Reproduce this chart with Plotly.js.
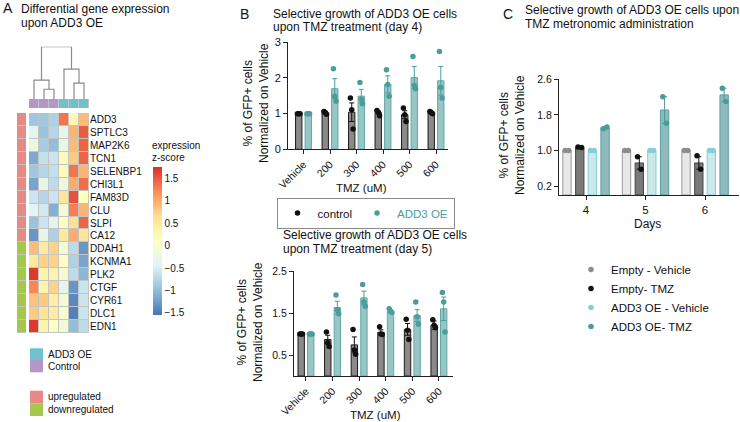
<!DOCTYPE html>
<html><head><meta charset="utf-8">
<script src="https://cdn.plot.ly/plotly-3.0.1.min.js"></script>
<style>html,body{margin:0;padding:0;background:#fff}#chart{width:740px;height:422px}</style>
</head><body><div id="chart"></div>
<script>
// ================= Panel A: heatmap data =================
const genes = ['ADD3','SPTLC3','MAP2K6','TCN1','SELENBP1','CHI3L1','FAM83D','CLU','SLPI','CA12',
               'DDAH1','KCNMA1','PLK2','CTGF','CYR61','DLC1','EDN1'];
const geneRegulation = ['up','up','up','up','up','up','up','up','up','up',
                        'down','down','down','down','down','down','down'];
const samples = ['Control','Control','Control','ADD3 OE','ADD3 OE','ADD3 OE'];
const zScores = [
  [-0.9, -0.9, -0.8, 1.35, 0.25, 0.9],
  [-0.35,-0.95,-0.75,-0.3, 0.95, 1.5],
  [-0.2, -0.85,-1.0, -0.3, 0.9,  1.45],
  [-1.15,-0.65,-0.6,  0.15,0.8,  1.45],
  [-0.9, -0.75,-0.65, 0.2, 1.35, 0.95],
  [-1.2, -0.3, -0.7, -0.2, 1.0,  1.4],
  [-0.6, -0.75,-0.6,  0.55,1.55, 0.1],
  [-0.4, -0.55,-1.1, -0.1, 1.3,  0.95],
  [-0.95,-0.6, -0.35, 0.05,0.65, 1.45],
  [-1.3, -0.3, -0.8,  0.5, 1.0,  0.55],
  [0.9,  0.45, 0.75, -0.1,-0.7, -1.3],
  [0.5,  0.75, 0.75,  0.05,-0.8,-1.2],
  [1.7,  0.3,  0.3,  -0.1,-0.7, -1.05],
  [1.25, 0.3,  0.75, -0.35,-1.3,-0.6],
  [0.85, 0.8,  0.4,  -0.1,-1.4, -0.6],
  [0.8,  0.55, 0.45, -0.05,-1.45,-0.6],
  [1.7,  0.3,  0.05, -0.15,-1.0,-0.7]
];
// column dendrogram (nodes 0-5 = samples, 6+ = merges in order)
const dendroLeft = [1, 4, 0, 3, 8];
const dendroRight = [2, 5, 6, 7, 9];
const dendroHeight = [9.7, 15.7, 18.7, 29.7, 52];
const colorbarTicks = [1.5, 1, 0.5, 0, -0.5, -1, -1.5];

// ================= Panel B data =================
const tmzLabels = ['Vehicle','200','300','400','500','600'];
const day4Control = [1.0, 1.02, 1.04, 1.03, 0.97, 1.02];
const day4ControlSem = [0, 0.02, 0.26, 0.04, 0.11, 0.02];
const day4ControlPts = [[1,1,1],[1.06,1.03,0.98],[1.44,1.11,0.57],[1.09,1.04,0.94],[1.16,0.97,0.78],[1.06,1.03,1.0]];
const day4OE = [1.0, 1.70, 1.49, 1.82, 2.01, 1.92];
const day4OESem = [0, 0.28, 0.19, 0.24, 0.31, 0.40];
const day4OEPts = [[1,1,1],[2.26,1.49,1.35],[1.87,1.40,1.28],[2.23,1.82,1.49],[2.60,1.79,1.70],[2.74,1.73,1.44]];

const day5Control = [1.0, 0.87, 0.74, 1.04, 1.11, 1.21];
const day5ControlSem = [0, 0.10, 0.19, 0.06, 0.14, 0.10];
const day5ControlPts = [[1,1,1],[1.05,0.79,0.70],[1.11,0.62,0.52],[1.17,1.0,0.99],[1.35,1.09,0.87],[1.34,1.21,1.15]];
const day5OE = [1.0, 1.63, 1.86, 1.54, 1.44, 1.60];
const day5OESem = [0, 0.15, 0.16, 0.03, 0.14, 0.28];
const day5OEPts = [[1,1,1],[1.93,1.58,1.48],[2.18,1.76,1.66],[1.60,1.54,1.51],[1.76,1.41,1.23],[1.99,1.76,1.05]];

// ================= Panel C data =================
const days = ['4','5','6'];
const groupNames = ['Empty - Vehicle','Empty- TMZ','ADD3 OE - Vehicle','ADD3 OE- TMZ'];
const emptyVehicle = [1.0, 1.0, 1.0];
const emptyVehicleSem = [0, 0, 0];
const emptyVehiclePts = [[1,1],[1,1],[1,1]];
const emptyTMZ = [1.07, 0.72, 0.72];
const emptyTMZSem = [0.01, 0.14, 0.14];
const emptyTMZPts = [[1.08,1.07],[0.86,0.58],[0.88,0.58]];
const add3Vehicle = [1.0, 1.0, 1.0];
const add3VehicleSem = [0, 0, 0];
const add3VehiclePts = [[1,1],[1,1],[1,1]];
const add3TMZ = [1.51, 1.91, 2.25];
const add3TMZSem = [0.02, 0.30, 0.15];
const add3TMZPts = [[1.49,1.53],[2.21,1.61],[2.40,2.10]];

// ================= helpers =================
const W = 740, H = 422;
const FONT = 'Liberation Sans, Arial, Helvetica, sans-serif';
const X = p => p / W;
const Y = p => 1 - p / H;
const idx = arr => arr.map((_, i) => i);

const traces = [];

// --- heatmap ---
traces.push({
  type: 'heatmap', x: idx(samples), y: genes, z: zScores,
  zmin: -1.55, zmax: 1.76,
  colorscale: [[0,'#4575B4'],[1/6,'#91BFDB'],[2/6,'#E0F3F8'],[0.5,'#FFFFBF'],[4/6,'#FEE090'],[5/6,'#FC8D59'],[1,'#D73027']],
  xgap: 1, ygap: 1, xaxis: 'x', yaxis: 'y', hoverinfo: 'skip',
  colorbar: {
    x: X(153), xanchor: 'left', xpad: 0, y: Y(241), yanchor: 'middle', ypad: 0,
    len: 148 / H, lenmode: 'fraction', thickness: 9, thicknessmode: 'pixels',
    outlinewidth: 0, ticks: '', tickvals: colorbarTicks,
    ticktext: colorbarTicks.map(v => v < 0 ? '\u2212' + Math.abs(v) : String(v)),
    tickfont: {size: 10, family: FONT, color: '#111'}
  }
});
// column annotation
traces.push({
  type: 'heatmap', x: idx(samples), y: [0],
  z: [samples.map(s => s === 'ADD3 OE' ? 1 : 0)],
  zmin: 0, zmax: 1, colorscale: [[0,'#b596c9'],[1,'#6fc1cd']], showscale: false,
  xgap: 1, xaxis: 'x2', yaxis: 'y2', hoverinfo: 'skip'
});
// row annotation
traces.push({
  type: 'heatmap', x: [0], y: genes,
  z: geneRegulation.map(r => [r === 'up' ? 1 : 0]),
  zmin: 0, zmax: 1, colorscale: [[0,'#a3c84b'],[1,'#e68a86']], showscale: false,
  ygap: 1, xaxis: 'x3', yaxis: 'y3', hoverinfo: 'skip'
});
// dendrogram
(function () {
  const nx = idx(samples).slice(), nh = samples.map(() => 0);
  const lx = [], ly = [];
  dendroLeft.forEach((a, i) => {
    const b = dendroRight[i], h = dendroHeight[i];
    lx.push(nx[a], nx[a], nx[b], nx[b], null);
    ly.push(nh[a], h, h, nh[b], null);
    nx.push((nx[a] + nx[b]) / 2); nh.push(h);
  });
  traces.push({type: 'scatter', mode: 'lines', x: lx, y: ly, line: {color: '#8a8a8a', width: 1.2},
    xaxis: 'x4', yaxis: 'y4', showlegend: false, hoverinfo: 'skip', cliponaxis: false});
})();

function barTrace(means, sems, fill, edge, errColor, offset, width, xa, ya) {
  return {type: 'bar', x: idx(means), y: means, width: width, offset: offset,
    marker: {color: fill, line: {color: edge, width: 1}},
    error_y: {type: 'data', array: sems, visible: true, color: errColor, thickness: 1, width: 2.5},
    xaxis: xa, yaxis: ya, showlegend: false, hoverinfo: 'skip'};
}
function pointTrace(name, pts, color, center, jitter, xa, ya, legend, showlegend) {
  const xs = [], ys = [];
  pts.forEach((rep, i) => rep.forEach((v, r) => {
    xs.push(i + center + (r - (rep.length - 1) / 2) * jitter); ys.push(v);
  }));
  return {type: 'scatter', mode: 'markers', x: xs, y: ys, name: name,
    marker: {color: color, size: 5.5}, xaxis: xa, yaxis: ya,
    legend: legend, showlegend: showlegend, cliponaxis: false, hoverinfo: 'skip'};
}

// --- Panel B ---
const BW = 0.24, BOFF = [-0.30, 0.06];
const cCtrl = {fill: '#8a8a8a', edge: '#1a1a1a', err: '#111', pt: '#111'};
const cOE = {fill: '#97c6c4', edge: '#64a8a6', err: '#4a9d9a', pt: '#4a9d9a'};
traces.push(barTrace(day4Control, day4ControlSem, cCtrl.fill, cCtrl.edge, cCtrl.err, BOFF[0], BW, 'x5', 'y5'));
traces.push(barTrace(day4OE, day4OESem, cOE.fill, cOE.edge, cOE.err, BOFF[1], BW, 'x5', 'y5'));
traces.push(pointTrace('control', day4ControlPts, cCtrl.pt, BOFF[0] + BW / 2, 0.05, 'x5', 'y5', 'legend2', true));
traces.push(pointTrace('<span style="color:#4a9d9a">ADD3 OE</span>', day4OEPts, cOE.pt, BOFF[1] + BW / 2, 0.05, 'x5', 'y5', 'legend2', true));
traces.push(barTrace(day5Control, day5ControlSem, cCtrl.fill, cCtrl.edge, cCtrl.err, BOFF[0], BW, 'x6', 'y6'));
traces.push(barTrace(day5OE, day5OESem, cOE.fill, cOE.edge, cOE.err, BOFF[1], BW, 'x6', 'y6'));
traces.push(pointTrace('control', day5ControlPts, cCtrl.pt, BOFF[0] + BW / 2, 0.05, 'x6', 'y6', 'legend2', false));
traces.push(pointTrace('ADD3 OE', day5OEPts, cOE.pt, BOFF[1] + BW / 2, 0.05, 'x6', 'y6', 'legend2', false));

// --- Panel C ---
const CW = 0.14, COFF = [-0.39, -0.175, 0.035, 0.25];
const cStyles = [
  {fill: '#e8e8e8', edge: '#9a9a9a', err: '#888', pt: '#8c8c8c'},
  {fill: '#7a7a7a', edge: '#444', err: '#111', pt: '#111'},
  {fill: '#cde8ea', edge: '#84cfd8', err: '#7fd0d9', pt: '#7fd0d9'},
  {fill: '#8fb9bb', edge: '#5b9fa0', err: '#4b9b99', pt: '#4b9b99'}
];
const cMeans = [emptyVehicle, emptyTMZ, add3Vehicle, add3TMZ];
const cSems = [emptyVehicleSem, emptyTMZSem, add3VehicleSem, add3TMZSem];
const cPts = [emptyVehiclePts, emptyTMZPts, add3VehiclePts, add3TMZPts];
cMeans.forEach((m, g) => {
  const s = cStyles[g];
  traces.push(barTrace(m, cSems[g], s.fill, s.edge, s.err, COFF[g], CW, 'x7', 'y7'));
});
cPts.forEach((p, g) => {
  traces.push(pointTrace(groupNames[g], p, cStyles[g].pt, COFF[g] + CW / 2, 0.06, 'x7', 'y7', 'legend', true));
});

// ================= layout =================
const hidden = {visible: false, showgrid: false, zeroline: false, fixedrange: true};
const axisLine = {showline: true, linecolor: '#222', linewidth: 1, ticks: 'outside', ticklen: 4,
  tickcolor: '#222', tickwidth: 1, showgrid: false, zeroline: false,
  tickfont: {size: 10.5, family: FONT, color: '#111'}};

function ann(text, xpx, ypx, size, extra) {
  return Object.assign({text: text, x: X(xpx), y: Y(ypx), xref: 'paper', yref: 'paper',
    showarrow: false, xanchor: 'left', yanchor: 'middle',
    font: {size: size, family: FONT, color: '#111'}}, extra || {});
}
const yTitle = '% of GFP+ cells<br>Normalized on Vehicle';

const annotations = [
  ann('A', 1, 8, 14),
  ann('Differential gene expression', 19, 8.5, 12),
  ann('upon ADD3 OE', 19, 22.5, 12),
  ann('expression', 150, 145, 10),
  ann('z-score', 150, 157, 10),
  ann('ADD3 OE', 46, 354, 10),
  ann('Control', 46, 366, 10),
  ann('upregulated', 46, 396.5, 10),
  ann('downregulated', 46, 409.5, 10),
  ann('B', 238, 14, 14),
  ann('Selective growth of ADD3 OE cells', 271, 14, 12),
  ann('upon TMZ treatment (day 4)', 271, 27.5, 12),
  ann('TMZ (uM)', 361, 188, 11.5, {xanchor: 'center'}),
  ann(yTitle, 256, 103, 12, {xanchor: 'center', textangle: -90}),
  ann('Selective growth of ADD3 OE cells', 281, 234.5, 12),
  ann('upon TMZ treatment (day 5)', 281, 249, 12),
  ann('TMZ (uM)', 375, 415, 11.5, {xanchor: 'center'}),
  ann(yTitle, 250, 322, 12, {xanchor: 'center', textangle: -90}),
  ann('C', 501, 14, 14),
  ann('Selective growth of ADD3 OE cells upon', 523, 10.5, 12),
  ann('TMZ metronomic administration', 523, 24.5, 12),
  ann('Days', 647, 224, 12, {xanchor: 'center'}),
  ann(yTitle, 512, 135, 12, {xanchor: 'center', textangle: -90})
];

const sw = (x0, y0, x1, y1, c) => ({type: 'rect', xref: 'paper', yref: 'paper',
  x0: X(x0), x1: X(x1), y0: Y(y1), y1: Y(y0), fillcolor: c, line: {width: 0}});
const gridBg = (xr, yr) => ({type: 'rect', xref: xr + ' domain', yref: yr + ' domain',
  x0: 0, x1: 1, y0: 0, y1: 1, fillcolor: '#c4c4c4', line: {width: 0}, layer: 'below'});

const layout = {
  width: W, height: H, margin: {l: 0, r: 0, t: 0, b: 0},
  paper_bgcolor: '#fff', plot_bgcolor: 'rgba(0,0,0,0)',
  font: {family: FONT, color: '#111'},
  barmode: 'overlay', showlegend: true, hovermode: false,
  xaxis: Object.assign({}, hidden, {domain: [X(29), X(89)], range: [-0.5, 5.5], anchor: 'y'}),
  yaxis: {domain: [Y(333), Y(113)], type: 'category', autorange: 'reversed', side: 'right',
    anchor: 'x', showline: false, ticks: '', showgrid: false, zeroline: false,
    tickfont: {size: 10, family: FONT, color: '#111'}},
  xaxis2: Object.assign({}, hidden, {domain: [X(29), X(89)], range: [-0.5, 5.5], anchor: 'y2'}),
  yaxis2: Object.assign({}, hidden, {domain: [Y(108), Y(99)], range: [-0.5, 0.5], anchor: 'x2'}),
  xaxis3: Object.assign({}, hidden, {domain: [X(17), X(26)], range: [-0.5, 0.5], anchor: 'y3'}),
  yaxis3: Object.assign({}, hidden, {domain: [Y(333), Y(113)], type: 'category', autorange: 'reversed', anchor: 'x3'}),
  xaxis4: Object.assign({}, hidden, {domain: [X(29), X(89)], range: [-0.5, 5.5], anchor: 'y4'}),
  yaxis4: Object.assign({}, hidden, {domain: [Y(99), Y(46.7)], range: [0, 52], anchor: 'x4'}),
  xaxis5: Object.assign({}, axisLine, {domain: [X(288), X(448)], range: [-0.585, 5.453], anchor: 'y5',
    tickvals: idx(tmzLabels), ticktext: tmzLabels, tickangle: -45}),
  yaxis5: Object.assign({}, axisLine, {domain: [Y(149.3), Y(42.3)], range: [0, 3], anchor: 'x5',
    tickvals: [0, 1, 2, 3], tickfont: {size: 11, family: FONT, color: '#111'}}),
  xaxis6: Object.assign({}, axisLine, {domain: [X(294), X(453)], range: [-0.45, 5.53], anchor: 'y6',
    tickvals: idx(tmzLabels), ticktext: tmzLabels, tickangle: -45}),
  yaxis6: Object.assign({}, axisLine, {domain: [Y(376), Y(271)], range: [0, 2.5], anchor: 'x6',
    tickvals: [0.5, 1.5, 2.5], tickformat: '.1f'}),
  xaxis7: Object.assign({}, axisLine, {domain: [X(559), X(739)], range: [-0.454, 2.57], anchor: 'y7',
    tickvals: idx(days), ticktext: days, tickfont: {size: 11.5, family: FONT, color: '#111'}}),
  yaxis7: Object.assign({}, axisLine, {domain: [Y(195), Y(79.3)], range: [0, 2.6], anchor: 'x7',
    tickvals: [0.2, 1.0, 1.8, 2.6], tickformat: '.1f'}),
  legend: {x: X(571), y: Y(255), xanchor: 'left', yanchor: 'top', bgcolor: 'rgba(0,0,0,0)',
    font: {size: 11.5, family: FONT, color: '#111'}, itemwidth: 30, tracegroupgap: 0},
  legend2: {orientation: 'h', x: X(365.5), y: Y(213), xanchor: 'center', yanchor: 'middle',
    bordercolor: '#8a8a8a', borderwidth: 1, bgcolor: 'rgba(0,0,0,0)',
    font: {size: 11.5, family: FONT, color: '#111'}, itemwidth: 30},
  annotations: annotations,
  shapes: [
    gridBg('x', 'y'), gridBg('x2', 'y2'), gridBg('x3', 'y3'),
    sw(30, 348.3, 43, 360, '#6fc1cd'),
    sw(30, 360, 43, 372.3, '#b596c9'),
    sw(30, 390.7, 43, 403.3, '#e68a86'),
    sw(30, 403.3, 43, 416, '#a3c84b')
  ]
};

Plotly.newPlot('chart', traces, layout, {staticPlot: true, displayModeBar: false});
</script>
</body></html>
